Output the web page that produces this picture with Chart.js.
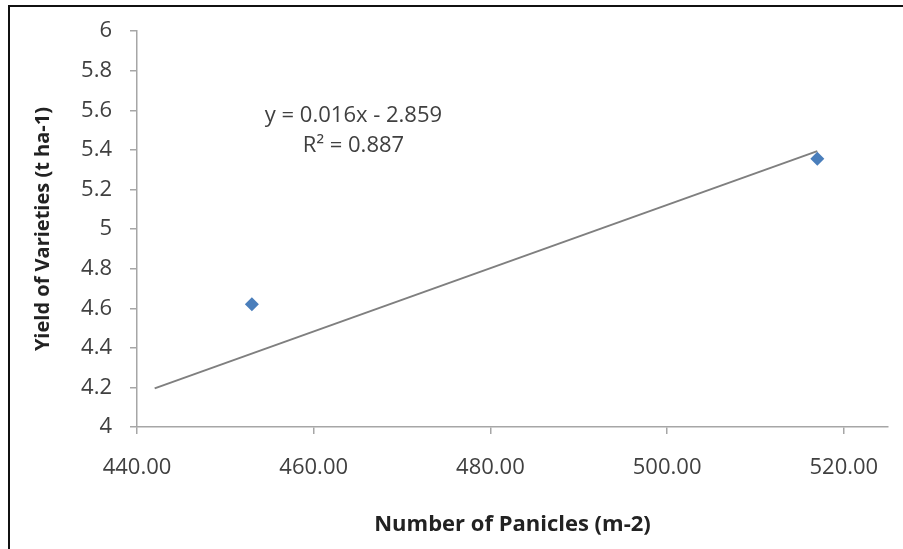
<!DOCTYPE html>
<html>
<head>
<meta charset="utf-8">
<script src="https://cdn.jsdelivr.net/npm/chart.js@4.4.1/dist/chart.umd.min.js"></script>
<style>
  html, body { margin: 0; padding: 0; background: #fff; }
  #wrap { position: relative; width: 903px; height: 549px; overflow: hidden; }
  #frame { position: absolute; left: 8px; top: 5px; right: -4px; bottom: -4px;
           border-top: 2px solid #111; border-left: 2px solid #111; }
  canvas { position: absolute; left: 0; top: 0; }
</style>
</head>
<body>
<div id="wrap">
  <div id="frame"></div>
  <canvas id="c" width="903" height="549"></canvas>
</div>
<script>
// observed points
const panicles  = [453, 517];
const yieldVals = [4.62, 5.355];

// linear trendline end points as drawn
const trendX = [442, 517];
const trendY = [4.195, 5.394];

const xTicks = [440, 460, 480, 500, 520];
const yTicks = [4, 4.2, 4.4, 4.6, 4.8, 5, 5.2, 5.4, 5.6, 5.8, 6];

const eqLines = ['y = 0.016x - 2.859', 'R\u00b2 = 0.887'];
const eqAt    = { x: 464.5, y: [5.575, 5.42] };

const FONT = "'Open Sans', 'Liberation Sans', sans-serif";
const AXIS = '#a6a6a6';
const TXT  = '#404040';

const eqPlugin = {
  id: 'equation',
  afterDatasetsDraw(chart) {
    const { ctx, scales } = chart;
    ctx.save();
    ctx.font = '22px ' + FONT;
    ctx.fillStyle = TXT;
    ctx.textAlign = 'center';
    ctx.textBaseline = 'middle';
    const px = scales.x.getPixelForValue(eqAt.x);
    eqLines.forEach((t, i) => ctx.fillText(t, px, scales.y.getPixelForValue(eqAt.y[i])));
    ctx.restore();
  }
};

new Chart(document.getElementById('c'), {
  type: 'scatter',
  data: {
    datasets: [
      {
        label: 'Yield',
        data: panicles.map((x, i) => ({ x, y: yieldVals[i] })),
        pointStyle: 'rectRot',
        pointRadius: 7,
        pointHoverRadius: 7,
        backgroundColor: '#4a7ebb',
        borderColor: '#4a7ebb',
        borderWidth: 0
      },
      {
        label: 'Linear',
        type: 'line',
        data: trendX.map((x, i) => ({ x, y: trendY[i] })),
        borderColor: '#7f7f7f',
        borderWidth: 2,
        pointRadius: 0,
        fill: false
      }
    ]
  },
  options: {
    responsive: false,
    animation: false,
    layout: { padding: { left: 0, top: 24, right: 15, bottom: 0 } },
    plugins: { legend: { display: false }, tooltip: { enabled: false } },
    scales: {
      x: {
        type: 'linear', min: 440, max: 525,
        afterBuildTicks: s => { s.ticks = xTicks.map(v => ({ value: v })); },
        afterFit: s => { s.height = 122; },
        ticks: { color: TXT, font: { family: FONT, size: 22 }, padding: 21,
                 maxRotation: 0, callback: v => v.toFixed(2) },
        grid: { drawOnChartArea: false, drawTicks: true, tickLength: 7, color: AXIS, lineWidth: 1.5 },
        border: { display: true, color: AXIS, width: 1.5 },
        title: { display: true, text: 'Number of Panicles (m-2)', color: '#222',
                 font: { family: FONT, size: 22, weight: 'bold' }, padding: { top: 0, bottom: 11 } }
      },
      y: {
        type: 'linear', min: 4, max: 6,
        afterBuildTicks: s => { s.ticks = yTicks.map(v => ({ value: v })); },
        afterFit: s => { s.width = 137; },
        ticks: { color: TXT, font: { family: FONT, size: 22 }, padding: 18,
                 callback: v => String(+v.toFixed(1)) },
        grid: { drawOnChartArea: false, drawTicks: true, tickLength: 7, color: AXIS, lineWidth: 1.5 },
        border: { display: true, color: AXIS, width: 1.5 },
        title: { display: true, text: 'Yield of Varieties (t ha-1)', color: '#222',
                 font: { family: FONT, size: 20, weight: 'bold' }, padding: { top: 31, bottom: 0 } }
      }
    }
  },
  plugins: [eqPlugin]
});
</script>
</body>
</html>
